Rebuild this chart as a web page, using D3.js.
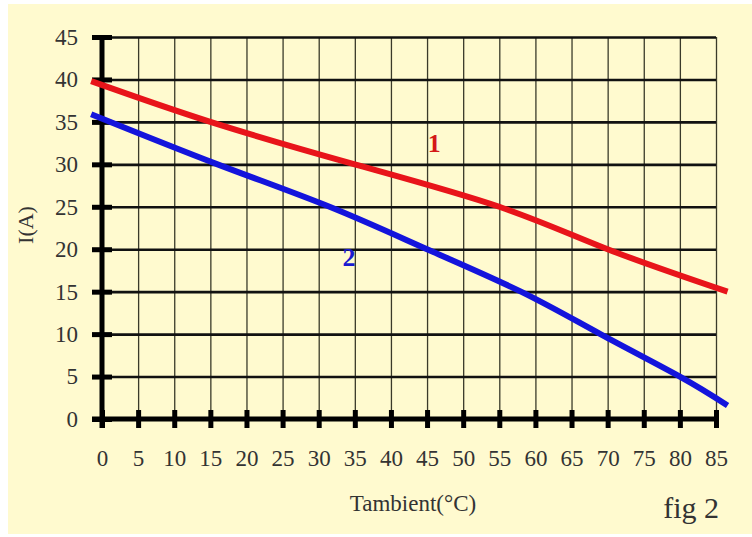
<!DOCTYPE html>
<html>
<head>
<meta charset="utf-8">
<script src="https://cdn.jsdelivr.net/npm/d3@7"></script>
<style>
  body { margin: 0; background: #ffffff; }
  svg { display: block; }
  text { font-family: "Liberation Serif", "Times New Roman", serif; fill: #333; }
</style>
</head>
<body>
<div id="graph"></div>
<script>
    //Size of the page picture.
    let w = 752;
    let h = 537;

    //Tick values of both axes.
    const tempTicks = [0, 5, 10, 15, 20, 25, 30, 35, 40, 45, 50, 55, 60, 65, 70, 75, 80, 85];
    const currentTicks = [0, 5, 10, 15, 20, 25, 30, 35, 40, 45];

    //Curve 1 (red): [Tambient, I].
    const curve1 = [[-1.5, 39.8], [15, 35], [35, 30], [55, 25], [70, 20], [86.6, 15]];
    //Curve 2 (blue).
    const curve2 = [[-1.5, 35.9], [16, 30], [31.5, 25], [45, 20], [58, 15], [69, 10], [80, 5], [86.6, 1.6]];

    const svg = d3.select("#graph")
                .append("svg")
                .attr("width", w)
                .attr("height", h);

    //Cream panel behind the chart.
    svg.append("rect")
       .attr("x", 8).attr("y", 4)
       .attr("width", w - 8).attr("height", 530)
       .attr("fill", "#fffacf");

    //Scales.
    const x = d3.scaleLinear().domain([0, 85]).range([102, 716]);
    const y = d3.scaleLinear().domain([0, 45]).range([419, 37]);

    //Vertical grid lines.
    svg.append("g")
       .attr("transform", "translate(0," + y(0) + ")")
       .call(d3.axisBottom(x).tickValues(tempTicks.slice(1)).tickSize(-(y(0) - y(45))).tickFormat(""))
       .call(g => g.select(".domain").remove())
       .call(g => g.selectAll("line").attr("stroke", "#3a3a2a").attr("stroke-width", 1.3));

    //Horizontal grid lines.
    svg.append("g")
       .attr("transform", "translate(" + x(0) + ",0)")
       .call(d3.axisLeft(y).tickValues(currentTicks.slice(1)).tickSize(-(x(85) - x(0))).tickFormat(""))
       .call(g => g.select(".domain").remove())
       .call(g => g.selectAll("line").attr("stroke", "#111").attr("stroke-width", 2.6));

    //Thick y ticks and labels.
    svg.append("g")
       .attr("transform", "translate(" + (x(0) + 10) + ",0)")
       .call(d3.axisLeft(y).tickValues(currentTicks).tickSize(20).tickPadding(14))
       .call(g => g.select(".domain").remove())
       .call(g => g.selectAll("line").attr("stroke", "#000").attr("stroke-width", 5))
       .call(g => g.selectAll("text").attr("font-size", null).attr("font-family", null)
                   .style("font-size", "23px").attr("fill", "#333"));

    //Thick x ticks and labels.
    svg.append("g")
       .attr("transform", "translate(0," + (y(0) - 9) + ")")
       .call(d3.axisBottom(x).tickValues(tempTicks).tickSize(18).tickPadding(22))
       .call(g => g.attr("font-size", null).attr("font-family", null))
       .call(g => g.select(".domain").remove())
       .call(g => g.selectAll("line").attr("stroke", "#000").attr("stroke-width", 5))
       .call(g => g.selectAll("text").style("font-size", "23px").attr("fill", "#333"));

    //Heavy axis lines.
    svg.append("line")
       .attr("x1", x(0)).attr("x2", x(0))
       .attr("y1", y(45) - 2).attr("y2", y(0) + 9)
       .attr("stroke", "#000").attr("stroke-width", 5);
    svg.append("line")
       .attr("x1", x(0) - 10).attr("x2", x(85))
       .attr("y1", y(0)).attr("y2", y(0))
       .attr("stroke", "#000").attr("stroke-width", 5);

    //The two curves.
    const line = d3.line()
                   .x(d => x(d[0]))
                   .y(d => y(d[1]))
                   .curve(d3.curveNatural);

    svg.append("path")
       .datum(curve1)
       .attr("d", line)
       .attr("fill", "none")
       .attr("stroke", "#e8141a")
       .attr("stroke-width", 6);

    svg.append("path")
       .datum(curve2)
       .attr("d", line)
       .attr("fill", "none")
       .attr("stroke", "#1414dc")
       .attr("stroke-width", 6);

    //Curve numbers.
    svg.append("text")
       .attr("x", x(46)).attr("y", y(32.5))
       .attr("dy", "0.35em")
       .style("text-anchor", "middle")
       .style("font-size", "26px").style("font-weight", "bold")
       .style("fill", "#d41818")
       .text("1");

    svg.append("text")
       .attr("x", x(34.2)).attr("y", y(19.1))
       .attr("dy", "0.35em")
       .style("text-anchor", "middle")
       .style("font-size", "26px").style("font-weight", "bold")
       .style("fill", "#1a1ad0")
       .text("2");

    //Axis titles.
    svg.append("text")
       .attr("x", 413).attr("y", 503)
       .attr("dy", "0.35em")
       .style("text-anchor", "middle")
       .style("font-size", "23px")
       .text("Tambient(°C)");

    svg.append("text")
       .attr("transform", "translate(25,225) rotate(-90)")
       .attr("dy", "0.35em")
       .style("text-anchor", "middle")
       .style("font-size", "22px")
       .text("I(A)");

    svg.append("text")
       .attr("x", 719).attr("y", 518)
       .style("text-anchor", "end")
       .style("font-size", "30px")
       .text("fig 2");
</script>
</body>
</html>
